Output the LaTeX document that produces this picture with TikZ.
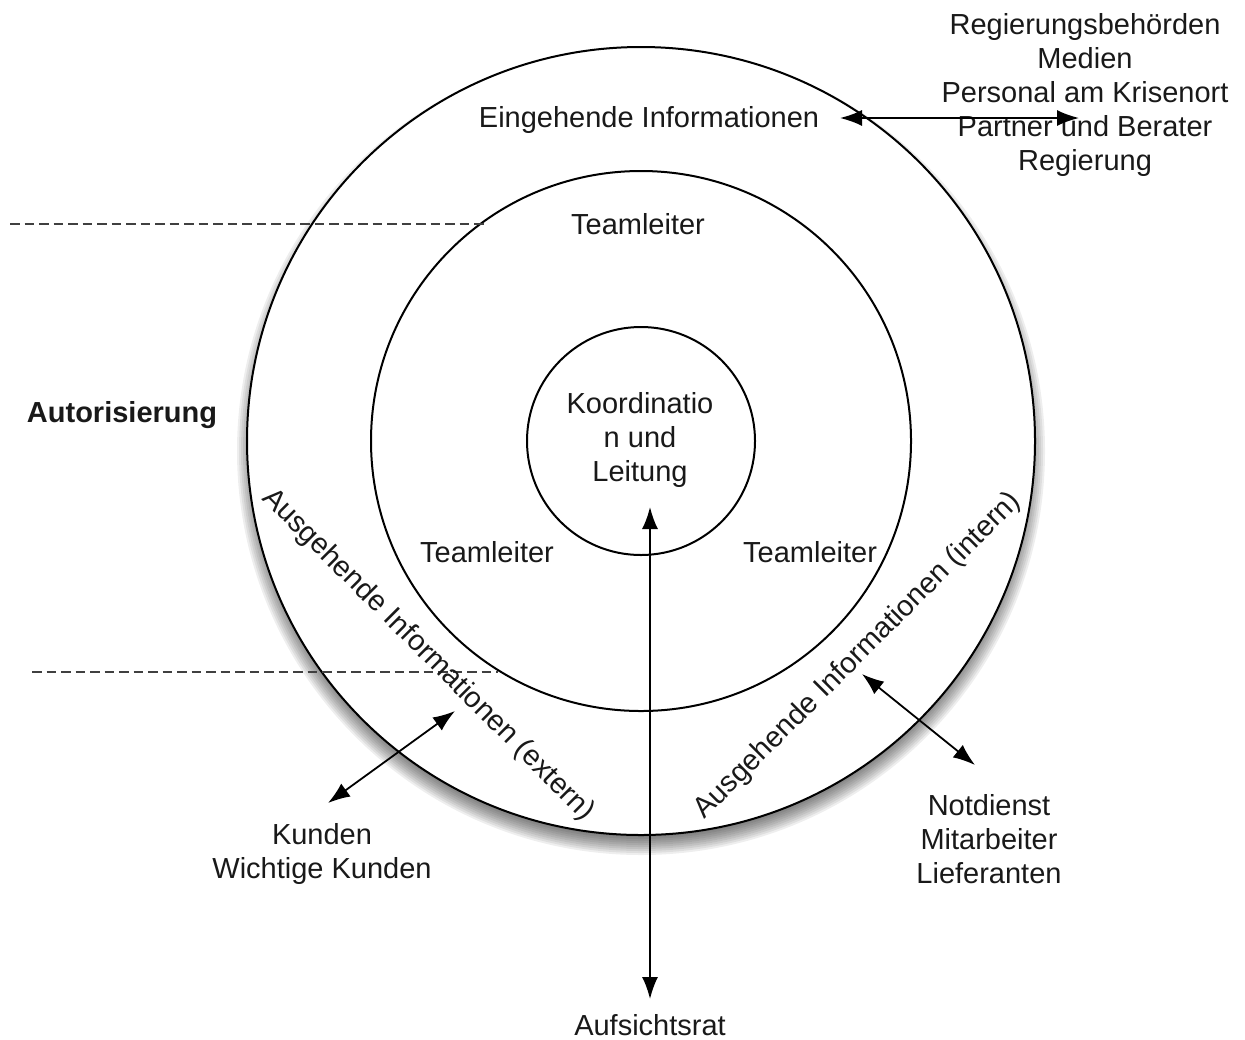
\documentclass[tikz,border=0pt]{standalone}
\usepackage{fontspec}
\setmainfont{Liberation Sans}
\usetikzlibrary{arrows.meta}
\begin{document}
\begin{tikzpicture}[x=0.5pt,y=-0.5pt,
  lbl/.style={font=\fontsize{14.5}{17}\selectfont, align=center, inner sep=0pt, text=black!90},
  ring/.style={line width=1pt, draw=black},
  twoway/.style={{Latex[length=11pt,width=8pt]}-{Latex[length=11pt,width=8pt]}, line width=0.9pt},
  border/.style={dashed, dash pattern=on 4.75pt off 2.5pt, line width=1pt, draw=black!75}]
\useasboundingbox (0,0) rectangle (1245,1039);
\coordinate (c) at (641,441);

% soft shadow under the outer ring
\foreach \k in {0,...,9}
  \fill[black, opacity=0.065] (641,451) circle [radius=386+2*\k];
\filldraw[ring, fill=white] (c) circle [radius=394];
\draw[ring] (c) circle [radius=270];
\draw[ring] (c) circle [radius=114];

% boundaries of the authorisation band
\coordinate (d1a) at (10,224);  \coordinate (d1b) at (487,224);
\coordinate (d2a) at (32,672);  \coordinate (d2b) at (498,672);
\draw[border] (d1a) -- (d1b);
\draw[border] (d2a) -- (d2b);

% labels
\node[lbl] (core) at (640,440) {Koordinatio\\n und\\Leitung};
\node[lbl] (tlTop) at (638,224) {Teamleiter};
\node[lbl] (tlLeft) at (487,552) {Teamleiter};
\node[lbl] (tlRight) at (810,552) {Teamleiter};
\node[lbl] (incoming) at (649,120) {Eingehende Informationen};
\node[lbl, font=\fontsize{14.5}{17}\selectfont\bfseries] (auth) at (122,415) {Autorisierung};
\node[lbl] (extern) at (428,655) [rotate=-45] {Ausgehende Informationen (extern)};
\node[lbl] (intern) at (858,656) [rotate=45] {Ausgehende Informationen (intern)};
\node[lbl] (sources) at (1085,95) {Regierungsbehörden\\Medien\\Personal am Krisenort\\Partner und Berater\\Regierung};
\node[lbl] (customers) at (322,854) {Kunden\\Wichtige Kunden};
\node[lbl] (staff) at (989,839) {Notdienst\\Mitarbeiter\\Lieferanten};
\node[lbl] (board) at (650,1025) {Aufsichtsrat};

% information flows
\coordinate (inA) at (840,118);  \coordinate (inB) at (1079,118);
\draw[twoway] (inA) -- (inB);
\coordinate (boardA) at (650,507);  \coordinate (boardB) at (650,999);
\draw[twoway] (boardA) -- (boardB);
\coordinate (extA) at (455,711);  \coordinate (extB) at (328,803);
\draw[twoway] (extA) -- (extB);
\coordinate (intA) at (862,674);  \coordinate (intB) at (975,765);
\draw[twoway] (intA) -- (intB);
\end{tikzpicture}
\end{document}
